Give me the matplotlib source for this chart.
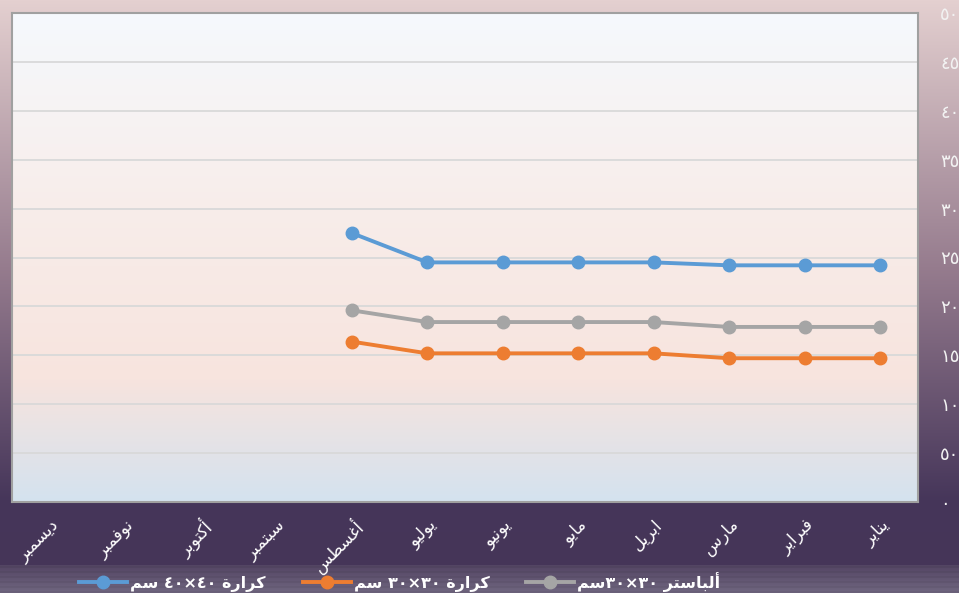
import re
import numpy as np
import matplotlib
matplotlib.use('Agg')
import matplotlib.pyplot as plt
from matplotlib.lines import Line2D

# data (January -> December)
months = ['يناير', 'فبراير', 'مارس', 'ابريل', 'مايو', 'يونيو',
          'يوليو', 'أغسطس', 'سبتمبر', 'أكتوبر', 'نوفمبر', 'ديسمبر']
karara_40 = [242, 242, 242, 245, 245, 245, 245, 275, None, None, None, None]
karara_30 = [147, 147, 147, 152, 152, 152, 152, 164, None, None, None, None]
albaster_30 = [179, 179, 179, 184, 184, 184, 184, 196, None, None, None, None]
series_names = ['كرارة ٤٠×٤٠ سم', 'كرارة ٣٠×٣٠ سم', 'ألباستر ٣٠×٣٠سم']
y_ticks = list(range(0, 501, 50))

# matplotlib has no arabic shaping, so pick presentation forms by hand
# (isolated, final, initial, medial); two entries = joins only to the right
FORMS = {
    'ا': '\uFE8D\uFE8E', 'أ': '\uFE83\uFE84', 'د': '\uFEA9\uFEAA',
    'ر': '\uFEAD\uFEAE', 'و': '\uFEED\uFEEE', 'ة': '\uFE93\uFE94',
    'ب': '\uFE8F\uFE90\uFE91\uFE92', 'ت': '\uFE95\uFE96\uFE97\uFE98',
    'س': '\uFEB1\uFEB2\uFEB3\uFEB4', 'ط': '\uFEC1\uFEC2\uFEC3\uFEC4',
    'غ': '\uFECD\uFECE\uFECF\uFED0', 'ف': '\uFED1\uFED2\uFED3\uFED4',
    'ك': '\uFED9\uFEDA\uFEDB\uFEDC', 'ل': '\uFEDD\uFEDE\uFEDF\uFEE0',
    'م': '\uFEE1\uFEE2\uFEE3\uFEE4', 'ن': '\uFEE5\uFEE6\uFEE7\uFEE8',
    'ي': '\uFEF1\uFEF2\uFEF3\uFEF4',
}


def ar(text):
    out = []
    for i, c in enumerate(text):
        if c not in FORMS:
            out.append(c)
            continue
        f = FORMS[c]
        prev = text[i - 1] if i > 0 else ''
        nxt = text[i + 1] if i + 1 < len(text) else ''
        jp = prev in FORMS and len(FORMS[prev]) == 4
        jn = len(f) == 4 and nxt in FORMS
        if jp and jn:
            out.append(f[3])
        elif jp:
            out.append(f[1])
        elif jn:
            out.append(f[2])
        else:
            out.append(f[0])
    vis = ''.join(out)[::-1]
    # numbers stay left to right
    return re.sub('[٠-٩]+', lambda m: m.group()[::-1], vis)


def ar_num(v):
    return str(v).translate(str.maketrans('0123456789', '٠١٢٣٤٥٦٧٨٩'))


def gradient(stops, n=600):
    pos = np.array([s[0] for s in stops])
    cols = np.array([s[1] for s in stops], dtype=float) / 255
    t = np.linspace(0, 1, n)
    img = np.stack([np.interp(t, pos, cols[:, k]) for k in range(3)], axis=1)
    return img[:, None, :]


plt.rcParams['font.family'] = 'DejaVu Sans'
fig = plt.figure(figsize=(9.59, 5.93), dpi=100)

# figure background
bg = fig.add_axes([0, 0, 1, 1], zorder=-10)
H = 593
bg_img = gradient([(0, (228, 208, 208)), (0.45, (150, 124, 142)),
                   (500 / H, (70, 54, 90)), (565 / H, (69, 53, 88)),
                   (566 / H, (84, 70, 100)), (1, (112, 102, 128))], n=H)
# stripes in the legend band
for r in range(566, H, 5):
    bg_img[r:r + 2] *= 0.95
bg.imshow(bg_img, aspect='auto', extent=[0, 1, 0, 1])
bg.axis('off')

ax = fig.add_axes([12 / 959, 91 / 593, 906 / 959, 489 / 593])
ax.imshow(gradient([(0, (245, 249, 253)), (0.4, (248, 237, 234)),
                    (0.75, (247, 228, 222)), (1, (212, 226, 239))]),
          aspect='auto', extent=[0, 1, 0, 1], transform=ax.transAxes, zorder=0)

x = np.arange(len(months))
colors = ['#5b9bd5', '#ed7d31', '#a5a5a5']
for vals, col in zip([karara_40, karara_30, albaster_30], colors):
    y = np.array([np.nan if v is None else v for v in vals], dtype=float)
    ax.plot(x, y, color=col, lw=2.8, marker='o', ms=9, zorder=3)

ax.set_xlim(11.5, -0.5)
ax.set_ylim(0, 500)
ax.set_yticks(y_ticks)
ax.set_yticklabels([ar_num(v) for v in y_ticks], color='#f2f2f2', fontsize=13)
ax.yaxis.tick_right()
ax.set_xticks(x)
ax.set_xticklabels([ar(m) for m in months], rotation=45, ha='right', va='top',
                   rotation_mode='anchor', color='white', fontsize=12)
ax.tick_params(length=0)
ax.tick_params(axis='y', pad=16)
ax.tick_params(axis='x', pad=10)
ax.grid(axis='y', color='#d9d9d9', lw=1.3, zorder=1)
ax.set_axisbelow(True)
for s in ax.spines.values():
    s.set_color('#a0a0a0')
    s.set_linewidth(1.5)

handles = [Line2D([], [], color=c, lw=2.8, marker='o', ms=9) for c in colors]
leg = fig.legend(handles, [ar(n) for n in series_names], ncol=3,
                 loc='center', bbox_to_anchor=(0.417, 0.019), frameon=False,
                 handlelength=3.0, columnspacing=2.3, handletextpad=0.2,
                 prop={'weight': 'bold', 'size': 11.5})
for t in leg.get_texts():
    t.set_color('white')

fig.savefig('out.png', dpi=100)
